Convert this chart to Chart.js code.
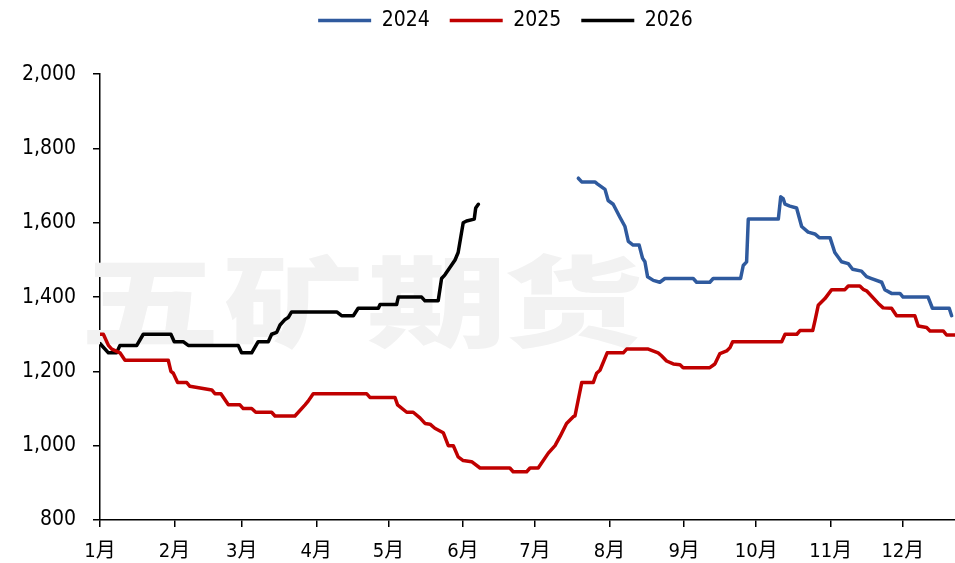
<!DOCTYPE html>
<html>
<head>
<meta charset="utf-8">
<script src="https://cdn.jsdelivr.net/npm/chart.js@4"></script>
<style>
  html, body { margin: 0; padding: 0; background: #fff; }
  #wrap { width: 955px; height: 563px; }
</style>
</head>
<body>
<div id="wrap"><canvas id="chart"></canvas></div>
<script>
// --- data: x = day of year, y = price ---
const monthLabels = ['1月', '2月', '3月', '4月', '5月', '6月', '7月', '8月', '9月', '10月', '11月', '12月'];
const monthStartDays = [0, 31, 59, 90, 120, 151, 181, 212, 243, 273, 304, 334];
const yTicks = [800, 1000, 1200, 1400, 1600, 1800, 2000];

const days2024 = [199, 200.4, 205.9, 206.9, 210.1, 211.4, 213.5, 216.3, 218.4, 219.8, 221.8, 224.3, 225.7, 226.7, 227.8, 230.2, 232.9, 235, 246.8, 248.2, 253.7, 255.1, 266.5, 267.6, 269, 269.7, 282.2, 283.2, 284.2, 285, 287, 289.8, 291.9, 294.6, 297.4, 299.2, 303.7, 305.7, 308.5, 311.3, 313.1, 316.8, 318.9, 321, 325.2, 326.5, 329.3, 332.8, 334.1, 344.5, 346.3, 353.3, 354.3];
const values2024 = [1720, 1710, 1710, 1705, 1690, 1660, 1650, 1615, 1590, 1550, 1540, 1540, 1505, 1495, 1455, 1445, 1440, 1450, 1450, 1440, 1440, 1450, 1450, 1485, 1495, 1610, 1610, 1670, 1665, 1650, 1645, 1640, 1590, 1575, 1570, 1560, 1560, 1520, 1495, 1490, 1475, 1470, 1455, 1450, 1440, 1420, 1410, 1410, 1400, 1400, 1370, 1370, 1350];

const days2025 = [0, 1.4, 3.5, 4.9, 8.3, 10.4, 28.4, 29.5, 30.5, 32.3, 36.1, 37.4, 46.5, 47.8, 50.3, 53.4, 58.2, 59.6, 63.1, 64.8, 71.4, 72.8, 81.1, 85.3, 86.6, 88.7, 110.9, 112.3, 122.7, 123.8, 127.6, 130.3, 133.1, 135.2, 137.3, 139.3, 142.8, 144.9, 147, 149, 151.1, 154.6, 158.1, 170.5, 171.9, 177.5, 178.9, 182.3, 186.5, 189.3, 191.4, 194.1, 196.9, 197.6, 200.4, 205.2, 206.6, 208, 211, 217.7, 219.1, 228.1, 232.2, 233.6, 235.7, 238.5, 241.3, 242.6, 253.7, 255.8, 257.9, 260.7, 262.1, 263.2, 283.6, 285, 289.9, 291.2, 296.5, 297.5, 298.8, 301.6, 304.4, 309.9, 311.3, 316.1, 317.5, 318.9, 323.8, 325.8, 329.3, 331.4, 339, 340.4, 343.9, 345.3, 350.8, 352.2, 355.7];
const values2025 = [1300, 1300, 1270, 1260, 1250, 1230, 1230, 1200, 1195, 1170, 1170, 1160, 1150, 1140, 1140, 1110, 1110, 1100, 1100, 1090, 1090, 1080, 1080, 1110, 1120, 1140, 1140, 1130, 1130, 1110, 1090, 1090, 1075, 1060, 1058, 1047, 1035, 1000, 1000, 970, 960, 957, 940, 940, 930, 930, 940, 940, 980, 1000, 1025, 1060, 1078, 1080, 1170, 1170, 1195, 1203, 1250, 1250, 1260, 1260, 1250, 1242, 1228, 1220, 1218, 1210, 1210, 1220, 1248, 1255, 1264, 1280, 1280, 1300, 1300, 1310, 1310, 1338, 1378, 1396, 1420, 1420, 1430, 1430, 1421, 1417, 1383, 1371, 1370, 1350, 1350, 1322, 1318, 1309, 1309, 1298, 1298];

const days2026 = [0, 3.5, 6.9, 8.3, 15.3, 18, 29.5, 30.9, 34.6, 36.7, 57.5, 58.9, 63.1, 65.8, 70, 71.4, 73.5, 74.9, 77, 78.3, 79.7, 98.5, 100.5, 105.4, 107.4, 115.8, 116.5, 123.4, 124.1, 133.8, 135.2, 140.7, 142.1, 143.5, 147.7, 149, 151.1, 152.5, 155.7, 156.3, 157.4];
const values2026 = [1275, 1250, 1250, 1270, 1270, 1300, 1300, 1280, 1280, 1270, 1270, 1250, 1250, 1280, 1280, 1300, 1305, 1325, 1340, 1345, 1360, 1360, 1350, 1350, 1370, 1370, 1380, 1380, 1400, 1400, 1390, 1390, 1450, 1460, 1500, 1520, 1600, 1605, 1610, 1640, 1650];

const X_MAX = 355.7;
const FONT = "'DejaVu Sans Condensed', 'Noto Sans CJK SC', sans-serif";

function toPoints(days, values) {
    return days.map((d, i) => ({ x: d, y: values[i] }));
}

// watermark behind the lines, one glyph at a time (wide, squat glyphs)
const watermark = {
    id: 'watermark',
    beforeDatasetsDraw(chart) {
        const ctx = chart.ctx;
        const chars = ['五', '矿', '期', '货'];
        const centers = [150, 293, 437, 573];
        ctx.save();
        ctx.font = "900 112px 'Noto Sans CJK SC', sans-serif";
        ctx.fillStyle = '#f2f2f2';
        ctx.textAlign = 'center';
        ctx.textBaseline = 'middle';
        chars.forEach((c, i) => {
            ctx.save();
            ctx.translate(centers[i], 302);
            ctx.scale(1.25, 0.88);
            ctx.fillText(c, 0, 0);
            ctx.restore();
        });
        ctx.restore();
    }
};

// nudge the legend to the right like the original
const legendShift = {
    id: 'legendShift',
    afterLayout(chart) {
        chart.legend.left += 28;
        chart.legend.right += 28;
    }
};

const lineStyle = {
    borderWidth: 3.5,
    pointRadius: 0,
    tension: 0,
    fill: false,
    borderJoinStyle: 'round',
    borderCapStyle: 'round'
};

new Chart(document.getElementById('chart'), {
    type: 'line',
    data: {
        datasets: [
            { label: '2024', data: toPoints(days2024, values2024), borderColor: '#2F5A9E', backgroundColor: '#2F5A9E', ...lineStyle },
            { label: '2025', data: toPoints(days2025, values2025), borderColor: '#C00000', backgroundColor: '#C00000', ...lineStyle },
            { label: '2026', data: toPoints(days2026, values2026), borderColor: '#000000', backgroundColor: '#000000', ...lineStyle }
        ]
    },
    options: {
        responsive: true,
        maintainAspectRatio: false,
        animation: false,
        layout: { padding: { top: -10, left: 0, right: 0, bottom: 0 } },
        plugins: {
            legend: {
                position: 'top',
                labels: {
                    usePointStyle: true,
                    pointStyle: 'line',
                    pointStyleWidth: 53,
                    boxHeight: 20,
                    padding: 20,
                    color: '#000',
                    font: { family: FONT, size: 21 }
                }
            },
            // empty title used as spacer between legend and plot
            title: {
                display: true,
                text: '',
                weight: 500,
                font: { size: 1 },
                padding: { top: 16, bottom: 16 }
            },
            tooltip: { enabled: false }
        },
        scales: {
            x: {
                type: 'linear',
                min: 0,
                max: X_MAX,
                afterBuildTicks: scale => {
                    scale.ticks = monthStartDays.map(v => ({ value: v }));
                },
                afterFit: scale => { scale.height = 43; },
                ticks: {
                    autoSkip: false,
                    maxRotation: 0,
                    padding: 13,
                    color: '#000',
                    font: { family: FONT, size: 20 },
                    callback: v => monthLabels[monthStartDays.indexOf(v)]
                },
                grid: { display: true, drawOnChartArea: false, drawTicks: true, tickLength: 7, color: '#000', lineWidth: 1.5 },
                border: { display: true, color: '#000', width: 1.5 }
            },
            y: {
                min: 800,
                max: 2000,
                afterBuildTicks: scale => {
                    scale.ticks = yTicks.map(v => ({ value: v }));
                },
                afterFit: scale => { scale.width = 100; },
                ticks: {
                    padding: 17,
                    color: '#000',
                    font: { family: FONT, size: 21 },
                    callback: v => v.toLocaleString('en-US')
                },
                grid: { display: true, drawOnChartArea: false, drawTicks: true, tickLength: 7, color: '#000', lineWidth: 1.5 },
                border: { display: true, color: '#000', width: 1.5 }
            }
        }
    },
    plugins: [watermark, legendShift]
});
</script>
</body>
</html>
